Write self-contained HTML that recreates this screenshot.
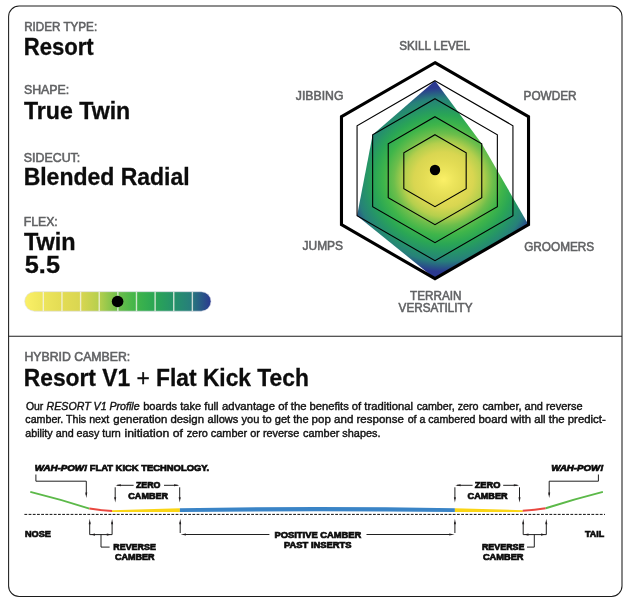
<!DOCTYPE html>
<html><head><meta charset="utf-8"><title>Resort V1</title>
<style>
html,body{margin:0;padding:0;background:#fff;}
svg{display:block;will-change:transform;}
text{font-family:"Liberation Sans",Arial,Helvetica,sans-serif;}
.lab{font-size:12px;fill:#616264;stroke:#616264;stroke-width:0.55px;}
.val{font-size:24px;font-weight:bold;fill:#0c0c0c;stroke:#0c0c0c;stroke-width:0.3px;}
.par{font-size:11px;fill:#111;stroke:#111;stroke-width:0.4px;}
.dg{font-size:9px;font-weight:bold;fill:#0c0c0c;stroke:#0c0c0c;stroke-width:0.7px;}
</style></head>
<body>
<svg width="630" height="607" viewBox="0 0 630 607">
<defs>
<radialGradient id="rg" gradientUnits="userSpaceOnUse" cx="443.5" cy="179.7" r="99" gradientTransform="translate(0 179.7) scale(1 0.93) translate(0 -179.7)">
<stop offset="0" stop-color="#fbf067"/>
<stop offset="0.1" stop-color="#ede55c"/>
<stop offset="0.2" stop-color="#e3dc54"/>
<stop offset="0.3" stop-color="#d9d651"/>
<stop offset="0.4" stop-color="#b5cf4d"/>
<stop offset="0.5" stop-color="#6dbe4b"/>
<stop offset="0.6" stop-color="#3fb54a"/>
<stop offset="0.7" stop-color="#2aa655"/>
<stop offset="0.8" stop-color="#25926a"/>
<stop offset="0.885" stop-color="#27807a"/>
<stop offset="1" stop-color="#2b3990"/>
</radialGradient>
<linearGradient id="lg" x1="0" y1="0" x2="1" y2="0">
<stop offset="0" stop-color="#fbf067"/>
<stop offset="0.1" stop-color="#ede55c"/>
<stop offset="0.2" stop-color="#e3dc54"/>
<stop offset="0.3" stop-color="#d9d651"/>
<stop offset="0.4" stop-color="#b5cf4d"/>
<stop offset="0.5" stop-color="#6dbe4b"/>
<stop offset="0.6" stop-color="#3fb54a"/>
<stop offset="0.7" stop-color="#2aa655"/>
<stop offset="0.8" stop-color="#25926a"/>
<stop offset="0.885" stop-color="#27807a"/>
<stop offset="1" stop-color="#2b3990"/>
</linearGradient>
</defs>
<rect x="0" y="0" width="630" height="607" fill="#fff"/>
<rect x="8.6" y="6" width="613.4" height="590.5" rx="10.5" ry="10.5" fill="none" stroke="#1c1c1c" stroke-width="1.05"/>
<line x1="8.6" y1="336.3" x2="622" y2="336.3" stroke="#1c1c1c" stroke-width="1.1"/>

<!-- left column -->

<!-- flex bar -->
<rect x="24.7" y="291.7" width="186.30" height="19.50" rx="9.75" fill="url(#lg)" stroke="#dcdce8" stroke-width="0.6"/>
<line x1="43.33" y1="291.7" x2="43.33" y2="311.2" stroke="#f4f4ec" stroke-opacity="0.8" stroke-width="1.4"/><line x1="61.96" y1="291.7" x2="61.96" y2="311.2" stroke="#f4f4ec" stroke-opacity="0.8" stroke-width="1.4"/><line x1="80.59" y1="291.7" x2="80.59" y2="311.2" stroke="#f4f4ec" stroke-opacity="0.8" stroke-width="1.4"/><line x1="99.22" y1="291.7" x2="99.22" y2="311.2" stroke="#f4f4ec" stroke-opacity="0.8" stroke-width="1.4"/><line x1="117.85" y1="291.7" x2="117.85" y2="311.2" stroke="#f4f4ec" stroke-opacity="0.8" stroke-width="1.4"/><line x1="136.48" y1="291.7" x2="136.48" y2="311.2" stroke="#f4f4ec" stroke-opacity="0.8" stroke-width="1.4"/><line x1="155.11" y1="291.7" x2="155.11" y2="311.2" stroke="#f4f4ec" stroke-opacity="0.8" stroke-width="1.4"/><line x1="173.74" y1="291.7" x2="173.74" y2="311.2" stroke="#f4f4ec" stroke-opacity="0.8" stroke-width="1.4"/><line x1="192.37" y1="291.7" x2="192.37" y2="311.2" stroke="#f4f4ec" stroke-opacity="0.8" stroke-width="1.4"/>
<circle cx="117.6" cy="301.5" r="5.8" fill="#000"/>

<!-- radar -->
<polygon points="435.00,80.70 481.77,143.70 528.53,224.70 435.00,278.70 357.06,215.70 372.65,134.70" fill="url(#rg)"/>
<polygon points="435.00,134.70 466.18,152.70 466.18,188.70 435.00,206.70 403.82,188.70 403.82,152.70" fill="none" stroke="#000" stroke-width="1.1"/><polygon points="435.00,116.70 481.77,143.70 481.77,197.70 435.00,224.70 388.23,197.70 388.23,143.70" fill="none" stroke="#000" stroke-width="1.1"/><polygon points="435.00,98.70 497.35,134.70 497.35,206.70 435.00,242.70 372.65,206.70 372.65,134.70" fill="none" stroke="#000" stroke-width="1.1"/><polygon points="435.00,80.70 512.94,125.70 512.94,215.70 435.00,260.70 357.06,215.70 357.06,125.70" fill="none" stroke="#000" stroke-width="1.1"/>
<polygon points="435.00,62.70 528.53,116.70 528.53,224.70 435.00,278.70 341.47,224.70 341.47,116.70" fill="none" stroke="#000" stroke-width="3.1" stroke-linejoin="miter"/>
<circle cx="435" cy="170" r="5.2" fill="#000"/>

<!-- hybrid camber -->


<!-- camber diagram -->
<line x1="24.4" y1="514.4" x2="605" y2="514.4" stroke="#111" stroke-width="1" stroke-dasharray="2.8 1.4"/>
<path d="M30.3,491.9 Q60,499.2 89.4,508.6" fill="none" stroke="#5cb949" stroke-width="2"/>
<path d="M89.4,508.6 Q100,510.4 112.1,511" fill="none" stroke="#e9473f" stroke-width="2"/>
<path d="M112,510.2 L179.9,508.3 L179.9,512.1 L112,512 Z" fill="#fad515"/>
<path d="M179.9,508.3 Q317.4,505.5 454.9,508.3 L454.9,512.1 Q317.4,510.3 179.9,512.1 Z" fill="#3a84c6"/>
<path d="M522.8,510.2 L454.9,508.3 L454.9,512.1 L522.8,512 Z" fill="#fad515"/>
<path d="M522.7,510.8 Q535,510.2 545.7,508.3" fill="none" stroke="#e9473f" stroke-width="2"/>
<path d="M545.7,508.3 Q574,499.2 602.9,491.9" fill="none" stroke="#5cb949" stroke-width="2"/>
<polyline points="35.90,474.50 35.90,481.20 86.30,481.20 86.30,495.00" fill="none" stroke="#141414" stroke-width="0.95"/><polygon points="86.30,497.90 85.30,492.50 87.30,492.50" fill="#231f20"/><polyline points="598.40,474.50 598.40,481.20 549.20,481.20 549.20,495.00" fill="none" stroke="#141414" stroke-width="0.95"/><polygon points="549.20,497.90 548.20,492.50 550.20,492.50" fill="#231f20"/><polyline points="117.20,485.30 133.60,485.30" fill="none" stroke="#141414" stroke-width="0.95"/><polygon points="115.50,485.30 120.90,484.30 120.90,486.30" fill="#231f20"/><polyline points="164.00,485.30 177.70,485.30" fill="none" stroke="#141414" stroke-width="0.95"/><polygon points="179.40,485.30 174.00,484.30 174.00,486.30" fill="#231f20"/><polyline points="115.20,487.30 115.20,499.00" fill="none" stroke="#141414" stroke-width="0.95"/><polygon points="115.20,502.60 114.20,497.20 116.20,497.20" fill="#231f20"/><polyline points="179.70,487.30 179.70,499.00" fill="none" stroke="#141414" stroke-width="0.95"/><polygon points="179.70,502.60 178.70,497.20 180.70,497.20" fill="#231f20"/><polyline points="456.90,485.30 472.60,485.30" fill="none" stroke="#141414" stroke-width="0.95"/><polygon points="455.20,485.30 460.60,484.30 460.60,486.30" fill="#231f20"/><polyline points="503.20,485.30 517.50,485.30" fill="none" stroke="#141414" stroke-width="0.95"/><polygon points="519.20,485.30 513.80,484.30 513.80,486.30" fill="#231f20"/><polyline points="454.90,487.30 454.90,499.00" fill="none" stroke="#141414" stroke-width="0.95"/><polygon points="454.90,502.60 453.90,497.20 455.90,497.20" fill="#231f20"/><polyline points="519.50,487.30 519.50,499.00" fill="none" stroke="#141414" stroke-width="0.95"/><polygon points="519.50,502.60 518.50,497.20 520.50,497.20" fill="#231f20"/><polyline points="89.70,522.00 89.70,534.60 112.10,534.60 112.10,522.00" fill="none" stroke="#141414" stroke-width="0.95"/><polygon points="89.70,518.80 88.70,524.20 90.70,524.20" fill="#231f20"/><polygon points="112.10,518.80 111.10,524.20 113.10,524.20" fill="#231f20"/><polygon points="90.50,534.60 95.00,533.50 95.00,535.70" fill="#231f20"/><polygon points="111.30,534.60 106.80,533.50 106.80,535.70" fill="#231f20"/><polyline points="101.00,534.60 101.00,547.10 109.60,547.10" fill="none" stroke="#141414" stroke-width="0.95"/><polyline points="523.20,522.00 523.20,534.60 546.30,534.60 546.30,522.00" fill="none" stroke="#141414" stroke-width="0.95"/><polygon points="523.20,518.80 522.20,524.20 524.20,524.20" fill="#231f20"/><polygon points="546.30,518.80 545.30,524.20 547.30,524.20" fill="#231f20"/><polygon points="524.00,534.60 528.50,533.50 528.50,535.70" fill="#231f20"/><polygon points="545.50,534.60 541.00,533.50 541.00,535.70" fill="#231f20"/><polyline points="534.30,534.60 534.30,547.10 527.00,547.10" fill="none" stroke="#141414" stroke-width="0.95"/><polyline points="180.20,522.00 180.20,533.00" fill="none" stroke="#141414" stroke-width="0.95"/><polygon points="180.20,518.80 179.20,524.20 181.20,524.20" fill="#231f20"/><polyline points="184.00,534.50 269.40,534.50" fill="none" stroke="#141414" stroke-width="0.95"/><polygon points="180.60,534.50 186.00,533.50 186.00,535.50" fill="#231f20"/><polyline points="454.90,522.00 454.90,533.00" fill="none" stroke="#141414" stroke-width="0.95"/><polygon points="454.90,518.80 453.90,524.20 455.90,524.20" fill="#231f20"/><polyline points="366.50,534.50 451.00,534.50" fill="none" stroke="#141414" stroke-width="0.95"/><polygon points="454.60,534.50 449.20,533.50 449.20,535.50" fill="#231f20"/>
<text class="lab" x="24.18" y="30.6" textLength="72.96" lengthAdjust="spacingAndGlyphs">RIDER TYPE:</text>
<text class="val" x="23.70" y="54.8" textLength="70.04" lengthAdjust="spacingAndGlyphs">Resort</text>
<text class="lab" x="23.91" y="94.1" textLength="45.34" lengthAdjust="spacingAndGlyphs">SHAPE:</text>
<text class="val" x="24.01" y="118.8" textLength="106.26" lengthAdjust="spacingAndGlyphs">True Twin</text>
<text class="lab" x="23.87" y="161.9" textLength="56.34" lengthAdjust="spacingAndGlyphs">SIDECUT:</text>
<text class="val" x="23.64" y="184.8" textLength="166.02" lengthAdjust="spacingAndGlyphs">Blended Radial</text>
<text class="lab" x="23.71" y="225.9" textLength="34.02" lengthAdjust="spacingAndGlyphs">FLEX:</text>
<text class="val" x="23.97" y="249.8" textLength="51.67" lengthAdjust="spacingAndGlyphs">Twin</text>
<text class="val" x="24.80" y="272.6" textLength="35.16" lengthAdjust="spacingAndGlyphs">5.5</text>
<text class="lab" x="399.19" y="50.0" textLength="70.92" lengthAdjust="spacingAndGlyphs">SKILL LEVEL</text>
<text class="lab" x="295.87" y="99.8" textLength="47.55" lengthAdjust="spacingAndGlyphs">JIBBING</text>
<text class="lab" x="523.58" y="99.8" textLength="53.00" lengthAdjust="spacingAndGlyphs">POWDER</text>
<text class="lab" x="302.57" y="249.9" textLength="40.46" lengthAdjust="spacingAndGlyphs">JUMPS</text>
<text class="lab" x="524.18" y="250.7" textLength="70.03" lengthAdjust="spacingAndGlyphs">GROOMERS</text>
<text class="lab" x="410.11" y="299.6" textLength="51.45" lengthAdjust="spacingAndGlyphs">TERRAIN</text>
<text class="lab" x="398.58" y="312.3" textLength="73.91" lengthAdjust="spacingAndGlyphs">VERSATILITY</text>
<text class="lab" x="24.46" y="360.8" textLength="105.77" lengthAdjust="spacingAndGlyphs">HYBRID CAMBER:</text>
<text class="val" x="23.81" y="385.8" textLength="285.04" lengthAdjust="spacingAndGlyphs">Resort V1 <tspan font-weight="normal">+</tspan> Flat Kick Tech</text>
<text class="dg" x="34.75" y="471.2" textLength="52.58" lengthAdjust="spacingAndGlyphs" font-style="italic" font-size="9.8">WAH-POW!</text>
<text class="dg" x="89.65" y="471.2" textLength="119.49" lengthAdjust="spacingAndGlyphs" font-size="9.8">FLAT KICK TECHNOLOGY.</text>
<text class="dg" x="551.29" y="471.2" textLength="52.12" lengthAdjust="spacingAndGlyphs" font-style="italic" font-size="9.8">WAH-POW!</text>
<text class="dg" x="135.92" y="487.9" textLength="24.57" lengthAdjust="spacingAndGlyphs">ZERO</text>
<text class="dg" x="128.35" y="498.8" textLength="39.66" lengthAdjust="spacingAndGlyphs">CAMBER</text>
<text class="dg" x="474.66" y="487.9" textLength="25.74" lengthAdjust="spacingAndGlyphs">ZERO</text>
<text class="dg" x="467.57" y="498.8" textLength="40.07" lengthAdjust="spacingAndGlyphs">CAMBER</text>
<text class="dg" x="113.26" y="549.8" textLength="42.60" lengthAdjust="spacingAndGlyphs">REVERSE</text>
<text class="dg" x="115.00" y="559.6" textLength="39.65" lengthAdjust="spacingAndGlyphs">CAMBER</text>
<text class="dg" x="481.95" y="549.8" textLength="42.56" lengthAdjust="spacingAndGlyphs">REVERSE</text>
<text class="dg" x="482.93" y="560.0" textLength="40.64" lengthAdjust="spacingAndGlyphs">CAMBER</text>
<text class="dg" x="274.49" y="537.7" textLength="86.87" lengthAdjust="spacingAndGlyphs">POSITIVE CAMBER</text>
<text class="dg" x="284.00" y="547.9" textLength="67.57" lengthAdjust="spacingAndGlyphs">PAST INSERTS</text>
<text class="dg" x="25.00" y="536.6" textLength="26.00" lengthAdjust="spacingAndGlyphs" font-size="9.6">NOSE</text>
<text class="dg" x="584.97" y="536.6" textLength="19.15" lengthAdjust="spacingAndGlyphs" font-size="9.6">TAIL</text>
<text class="par" x="25.92" y="410.0" textLength="17.41" lengthAdjust="spacingAndGlyphs">Our</text>
<text class="par" x="46.62" y="410.0" textLength="92.95" lengthAdjust="spacingAndGlyphs" font-style="italic">RESORT V1 Profile</text>
<text class="par" x="143.19" y="410.0" textLength="75.32" lengthAdjust="spacingAndGlyphs">boards take full</text>
<text class="par" x="222.03" y="410.0" textLength="84.51" lengthAdjust="spacingAndGlyphs">advantage of the</text>
<text class="par" x="309.48" y="410.0" textLength="103.51" lengthAdjust="spacingAndGlyphs">benefits of traditional</text>
<text class="par" x="416.67" y="410.0" textLength="61.85" lengthAdjust="spacingAndGlyphs">camber, zero</text>
<text class="par" x="482.39" y="410.0" textLength="100.26" lengthAdjust="spacingAndGlyphs">camber, and reverse</text>
<text class="par" x="25.36" y="423.4" textLength="83.96" lengthAdjust="spacingAndGlyphs">camber. This next</text>
<text class="par" x="113.37" y="423.4" textLength="90.70" lengthAdjust="spacingAndGlyphs">generation design</text>
<text class="par" x="207.61" y="423.4" textLength="101.02" lengthAdjust="spacingAndGlyphs">allows you to get the</text>
<text class="par" x="311.64" y="423.4" textLength="92.30" lengthAdjust="spacingAndGlyphs">pop and response</text>
<text class="par" x="407.65" y="423.4" textLength="67.85" lengthAdjust="spacingAndGlyphs">of a cambered</text>
<text class="par" x="478.47" y="423.4" textLength="127.28" lengthAdjust="spacingAndGlyphs">board with all the predict-</text>
<text class="par" x="25.21" y="436.8" textLength="95.66" lengthAdjust="spacingAndGlyphs">ability and easy turn</text>
<text class="par" x="124.53" y="436.8" textLength="58.37" lengthAdjust="spacingAndGlyphs">initiation of</text>
<text class="par" x="186.63" y="436.8" textLength="112.62" lengthAdjust="spacingAndGlyphs">zero camber or reverse</text>
<text class="par" x="303.06" y="436.8" textLength="77.43" lengthAdjust="spacingAndGlyphs">camber shapes.</text>
</svg>
</body></html>
